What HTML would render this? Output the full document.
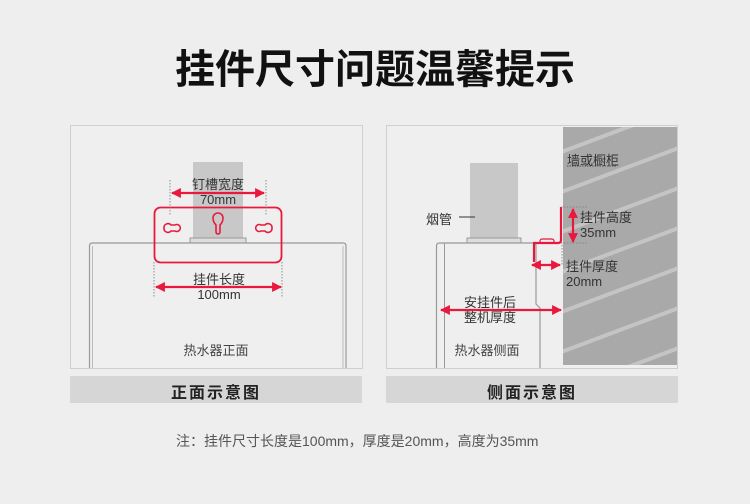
<!DOCTYPE html>
<html><head><meta charset="utf-8"><style>
body{margin:0;width:750px;height:504px;background:#eeeeee;overflow:hidden;font-family:"Liberation Sans","Noto Sans CJK SC",sans-serif;}
.t{position:absolute;white-space:nowrap;}
</style></head><body>
<div class="t" style="left:160px;top:44px;width:430px;text-align:center;font-size:40px;font-weight:bold;color:#111;letter-spacing:0px;line-height:52px">挂件尺寸问题温馨提示</div>
<svg width="750" height="504" style="position:absolute;left:0;top:0">
<defs>
<marker id="a" viewBox="0 0 10 10" refX="9" refY="5" markerWidth="5" markerHeight="4.5" orient="auto-start-reverse"><path d="M0,0L10,5L0,10z" fill="#e8193c"/></marker>
<clipPath id="w"><rect x="563" y="127" width="114" height="238"/></clipPath>
</defs>
<rect x="70.5" y="125.5" width="292" height="243" fill="#efefef" stroke="#cfcfcf"/>
<rect x="193" y="162" width="50" height="80" fill="#c8c8c8"/>
<rect x="190" y="238" width="56" height="5" fill="#ddd" stroke="#999" stroke-width="1"/>
<path d="M89.5,368V246q0-3 3-3H343q3,0 3,3V368" fill="none" stroke="#999" stroke-width="1.2"/>
<path d="M92.5,368V246M343,368V246" stroke="#bbb" stroke-width="1"/>
<rect x="154.5" y="207.5" width="127" height="55" rx="6" fill="none" stroke="#e8193c" stroke-width="1.8"/>
<path d="M164,228a4,4 0 0 1 7,-3h4a3.5,3.5 0 1 1 0,6h-4a4,4 0 0 1 -7,-3z" fill="none" stroke="#e8193c" stroke-width="1.6"/>
<path d="M272,228a4,4 0 0 0 -7,-3h-4a3.5,3.5 0 1 0 0,6h4a4,4 0 0 0 7,-3z" fill="none" stroke="#e8193c" stroke-width="1.6"/>
<path d="M218,213a5,5 0 0 1 5,5q0,4 -3,7v7a2,2 0 0 1 -4,0v-7q-3,-3 -3,-7a5,5 0 0 1 5,-5z" fill="none" stroke="#e8193c" stroke-width="1.6"/>
<path d="M170,180V215M266,180V215M154,262V298M282,262V298" stroke="#777" stroke-width="0.8" stroke-dasharray="1.5,1.5"/>
<line x1="172" y1="193" x2="264" y2="193" stroke="#e8193c" stroke-width="2.2" marker-start="url(#a)" marker-end="url(#a)"/>
<line x1="156" y1="287" x2="281" y2="287" stroke="#e8193c" stroke-width="2.2" marker-start="url(#a)" marker-end="url(#a)"/>
<rect x="70" y="376" width="292" height="27" fill="#d6d6d6"/>
<rect x="386.5" y="125.5" width="291" height="243" fill="#efefef" stroke="#cfcfcf"/>
<rect x="563" y="127" width="114" height="238" fill="#a9a9a9"/>
<g clip-path="url(#w)" stroke="#c4c4c4" stroke-width="4">
<line x1="540" y1="160" x2="700" y2="100"/><line x1="540" y1="200" x2="700" y2="140"/><line x1="540" y1="240" x2="700" y2="180"/><line x1="540" y1="280" x2="700" y2="220"/><line x1="540" y1="320" x2="700" y2="260"/><line x1="540" y1="360" x2="700" y2="300"/><line x1="540" y1="400" x2="700" y2="340"/><line x1="540" y1="440" x2="700" y2="380"/>
</g>
<line x1="567" y1="166" x2="617" y2="166" stroke="#333" stroke-width="0.8" stroke-dasharray="1.5,1"/>
<rect x="470" y="163" width="48" height="75" fill="#c8c8c8"/>
<rect x="467" y="238" width="54" height="5" fill="#ddd" stroke="#999"/>
<path d="M436.5,368V246q0-3 3-3H533q3,0 3,3V304l4,4V368" fill="none" stroke="#999" stroke-width="1.2"/>
<path d="M444.5,368V243" stroke="#999" stroke-width="1"/>
<line x1="459" y1="217" x2="475" y2="217" stroke="#333" stroke-width="1"/>
<path d="M561,207V240q0,3 -3,3H534V262" fill="none" stroke="#e8193c" stroke-width="2.2"/>
<rect x="540" y="239" width="14" height="4" rx="2" fill="none" stroke="#e8193c" stroke-width="1.2"/>
<path d="M561,207H587M561,243H588M562,245V265" stroke="#777" stroke-width="0.8" stroke-dasharray="1.5,1.5"/>
<line x1="573" y1="209" x2="573" y2="242" stroke="#e8193c" stroke-width="2.2" marker-start="url(#a)" marker-end="url(#a)"/>
<line x1="532" y1="265" x2="560" y2="265" stroke="#e8193c" stroke-width="2.2" marker-start="url(#a)" marker-end="url(#a)"/>
<line x1="441" y1="310" x2="561" y2="310" stroke="#e8193c" stroke-width="2.2" marker-start="url(#a)" marker-end="url(#a)"/>
<rect x="386" y="376" width="292" height="27" fill="#d6d6d6"/>
</svg>
<div class="t" style="left:170px;top:177px;width:96px;text-align:center;font-size:13px;color:#333;line-height:15px">钉槽宽度<br>70mm</div>
<div class="t" style="left:156px;top:272px;width:126px;text-align:center;font-size:13px;color:#333;line-height:15px">挂件长度<br>100mm</div>
<div class="t" style="left:166px;top:340px;width:100px;text-align:center;font-size:13px;color:#444">热水器正面</div>
<div class="t" style="left:70px;top:379px;width:292px;text-align:center;font-size:16px;font-weight:bold;color:#222;letter-spacing:2px">正面示意图</div>
<div class="t" style="left:567px;top:150px;font-size:13px;color:#333">墙或橱柜</div>
<div class="t" style="left:426px;top:209px;font-size:13px;color:#333">烟管</div>
<div class="t" style="left:580px;top:210px;font-size:13px;color:#333;line-height:15px">挂件高度<br>35mm</div>
<div class="t" style="left:566px;top:259px;font-size:13px;color:#333;line-height:15px">挂件厚度<br>20mm</div>
<div class="t" style="left:450px;top:295px;width:80px;text-align:center;font-size:13px;color:#333;line-height:15px">安挂件后<br>整机厚度</div>
<div class="t" style="left:437px;top:340px;width:100px;text-align:center;font-size:13px;color:#444">热水器侧面</div>
<div class="t" style="left:386px;top:379px;width:292px;text-align:center;font-size:16px;font-weight:bold;color:#222;letter-spacing:2px">侧面示意图</div>
<div class="t" style="left:176px;top:431px;font-size:14px;color:#555">注：挂件尺寸长度是100mm，厚度是20mm，高度为35mm</div>
</body></html>
